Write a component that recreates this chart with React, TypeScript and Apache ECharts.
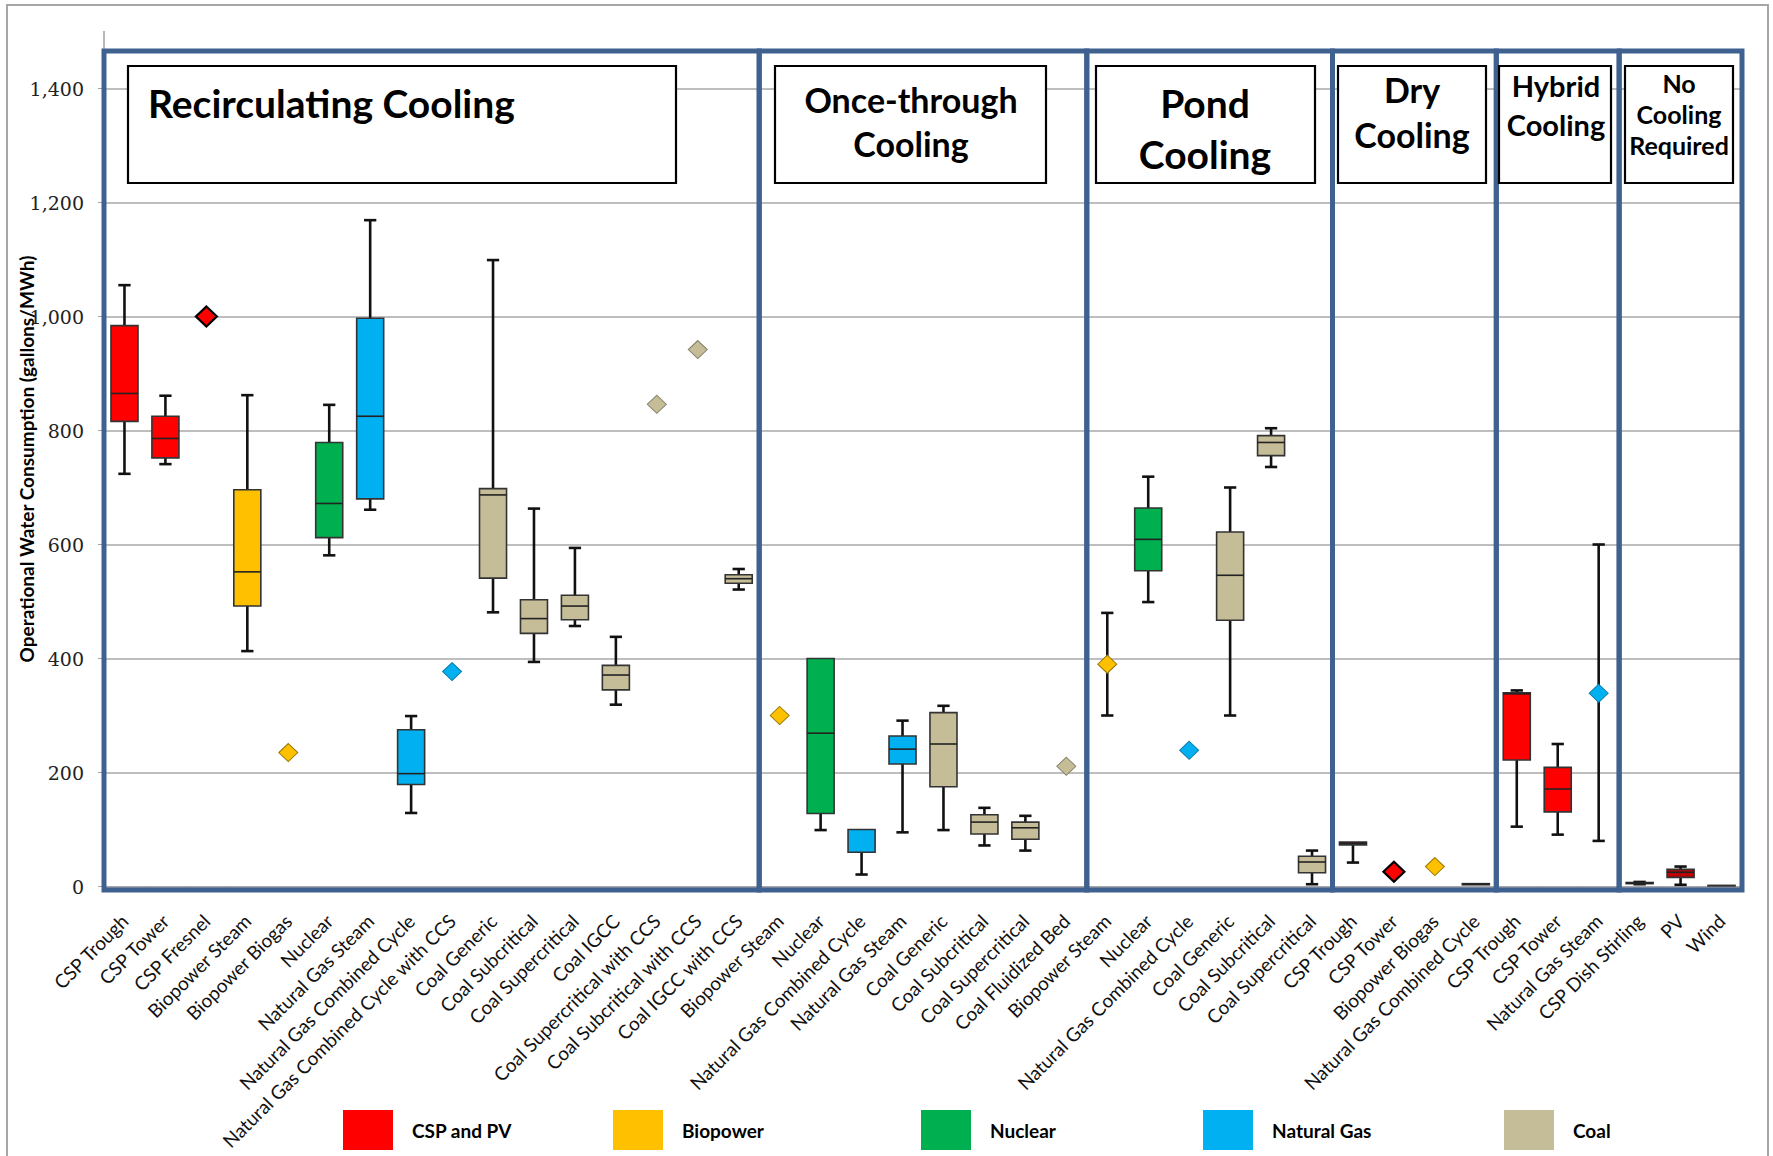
import React, { useEffect, useRef } from "react";
import * as echarts from "echarts";

// ---------- data ----------
const categories = [
  "CSP Trough", "CSP Tower", "CSP Fresnel", "Biopower Steam", "Biopower Biogas", "Nuclear",
  "Natural Gas Steam", "Natural Gas Combined Cycle", "Natural Gas Combined Cycle with CCS",
  "Coal Generic", "Coal Subcritical", "Coal Supercritical", "Coal IGCC",
  "Coal Supercritical with CCS", "Coal Subcritical with CCS", "Coal IGCC with CCS",
  "Biopower Steam", "Nuclear", "Natural Gas Combined Cycle", "Natural Gas Steam",
  "Coal Generic", "Coal Subcritical", "Coal Supercritical", "Coal Fluidized Bed",
  "Biopower Steam", "Nuclear", "Natural Gas Combined Cycle", "Coal Generic", "Coal Subcritical", "Coal Supercritical",
  "CSP Trough", "CSP Tower", "Biopower Biogas", "Natural Gas Combined Cycle",
  "CSP Trough", "CSP Tower", "Natural Gas Steam",
  "CSP Dish Stirling", "PV", "Wind",
];

const groupNames = ["Recirculating Cooling", "Once-through\nCooling", "Pond\nCooling", "Dry\nCooling", "Hybrid\nCooling", "No\nCooling\nRequired"];
const groupFirst = [0, 16, 24, 30, 34, 37];
const groupLast = [15, 23, 29, 33, 36, 39];

const fuelNames = ["CSP and PV", "Biopower", "Nuclear", "Natural Gas", "Coal"];
const fuelOf = [
  0, 0, 0, 1, 1, 2, 3, 3, 3, 4, 4, 4, 4, 4, 4, 4,
  1, 2, 3, 3, 4, 4, 4, 4,
  1, 2, 3, 4, 4, 4,
  0, 0, 1, 3,
  0, 0, 3,
  0, 0, 0,
];

const N = null;
const whiskerLow = [
  724, 741, N, 413, N, 581, 661, 129, N, 481, 394, 457, 319, N, N, 521,
  N, 99, 21, 95, 99, 72, 63, N,
  300, 499, N, 300, 736, 4,
  42, N, N, 3,
  105, 91, 80,
  4, 3, 1,
];
const boxQ1 = [
  816, 752, N, 492, N, 612, 680, 179, N, 541, 444, 468, 345, N, N, 532,
  N, 128, 60, 215, 175, 92, 83, N,
  N, 554, N, 467, 756, 24,
  73, N, N, 3,
  222, 131, N,
  5, 16, 1,
];
const boxMedian = [
  865, 786, N, 552, N, 672, 825, 198, N, 687, 470, 492, 371, N, N, 540,
  N, 269, N, 241, 250, 113, 103, N,
  N, 609, N, 546, 779, 43,
  76, N, N, 4,
  338, 171, N,
  6, 25, N,
];
const boxQ3 = [
  984, 825, N, 696, N, 779, 997, 275, N, 698, 503, 511, 388, N, N, 547,
  N, 400, 100, 264, 305, 126, 113, N,
  N, 664, N, 622, 791, 53,
  78, N, N, 5,
  340, 209, N,
  7, 30, 2,
];
const whiskerHigh = [
  1055, 861, N, 862, N, 845, 1169, 299, N, 1099, 663, 594, 438, N, N, 557,
  N, 400, 100, 291, 317, 138, 124, N,
  480, 719, N, 700, 804, 63,
  78, N, N, 5,
  344, 250, 600,
  8, 35, 2,
];
const meanPoint = [
  N, N, 1000, N, 235, N, N, N, 377, N, N, N, N, 846, 942, N,
  300, N, N, N, N, N, N, 211,
  390, N, 239, N, N, N,
  N, 26, 35, N,
  N, N, 339,
  N, N, N,
];
const yTicks = [0, 200, 400, 600, 800, 1000, 1200, 1400];

// ---------- styles ----------
const fuelColors = ["#FF0000", "#FFC000", "#00B050", "#00B0F0", "#C4BD97"];
const diamondBorders = ["#000000", "#9A7A00", "#00703A", "#0A7CA8", "#85806A"];
const darkRedIdx = [30, 38];
const FRAME = "#3F6190";
const LABEL_FONT = "Lato, 'Open Sans', sans-serif";

// annotation box layout (pixels)
const boxLayout = [
  { x: 128, y: 66, w: 548, h: 117, tx: 148, ty: 103, size: 39, lh: 44, align: "left" },
  { x: 775, y: 66, w: 271, h: 117, tx: 911, ty: 121, size: 34, lh: 44, align: "center" },
  { x: 1096, y: 66, w: 219, h: 117, tx: 1205, ty: 128, size: 39, lh: 51, align: "center" },
  { x: 1338, y: 66, w: 148, h: 117, tx: 1412, ty: 112, size: 34, lh: 45, align: "center" },
  { x: 1499, y: 66, w: 112, h: 117, tx: 1556, ty: 105, size: 29, lh: 39, align: "center" },
  { x: 1625, y: 66, w: 108, h: 117, tx: 1679, ty: 114, size: 25, lh: 31, align: "center" },
];
const legendLeft = [338, 608, 916, 1198, 1499];

function val(v: number | null) {
  return v === null ? "-" : v;
}

function renderBox(params: any, api: any) {
  const idx = api.value(0);
  const low = api.value(1);
  const q1 = api.value(2);
  const med = api.value(3);
  const q3 = api.value(4);
  const high = api.value(5);
  const band = api.size([1, 0])[0];
  const cx = api.coord([idx, 0])[0];
  const y = (v: number) => api.coord([idx, v])[1];
  const boxW = band * 0.66;
  const capW = band * 0.3;
  const fill = api.visual("color");
  const children: any[] = [];
  const hasBox = !isNaN(q1) && !isNaN(q3);
  if (!isNaN(low) && !isNaN(high)) {
    children.push({
      type: "line",
      shape: { x1: cx, y1: y(low), x2: cx, y2: y(high) },
      style: { stroke: "#111", lineWidth: 2.6 },
    });
    if (!hasBox || high > q3) {
      children.push({
        type: "line",
        shape: { x1: cx - capW / 2, y1: y(high), x2: cx + capW / 2, y2: y(high) },
        style: { stroke: "#111", lineWidth: 2.6 },
      });
    }
    if (!hasBox || low < q1) {
      children.push({
        type: "line",
        shape: { x1: cx - capW / 2, y1: y(low), x2: cx + capW / 2, y2: y(low) },
        style: { stroke: "#111", lineWidth: 2.6 },
      });
    }
  }
  if (hasBox) {
    children.push({
      type: "rect",
      shape: { x: cx - boxW / 2, y: y(q3), width: boxW, height: Math.max(y(q1) - y(q3), 0.5) },
      style: { fill, stroke: "#333", lineWidth: 1.6 },
    });
    if (!isNaN(med)) {
      children.push({
        type: "line",
        shape: { x1: cx - boxW / 2, y1: y(med), x2: cx + boxW / 2, y2: y(med) },
        style: { stroke: "#222", lineWidth: 1.6 },
      });
    }
  }
  return { type: "group", children };
}

function renderFrame(params: any, api: any) {
  const band = api.size([1, 0])[0];
  const x0 = api.coord([api.value(0), 0])[0] - band / 2;
  const x1 = api.coord([api.value(1), 0])[0] + band / 2;
  const cs = params.coordSys;
  const top = cs.y + 19.5;
  const bottom = cs.y + cs.height + 3.5;
  return {
    type: "rect",
    shape: { x: x0, y: top, width: x1 - x0, height: bottom - top },
    style: { fill: "none", stroke: FRAME, lineWidth: 5 },
  };
}

export default function App() {
  const ref = useRef<HTMLDivElement>(null);

  useEffect(() => {
    document.body.style.margin = "0";
    if (!ref.current) return;
    const chart = echarts.init(ref.current, undefined, { renderer: "svg" });

    const boxSeries = fuelNames.map((name, f) => ({
      name,
      type: "custom",
      renderItem: renderBox,
      z: 3,
      silent: true,
      itemStyle: { color: fuelColors[f] },
      encode: { x: 0, y: [1, 2, 3, 4, 5] },
      data: categories
        .map((_, i) => i)
        .filter((i) => fuelOf[i] === f && whiskerLow[i] !== null)
        .map((i) => {
          const value = [i, val(whiskerLow[i]), val(boxQ1[i]), val(boxMedian[i]), val(boxQ3[i]), val(whiskerHigh[i])];
          return darkRedIdx.includes(i) ? { value, itemStyle: { color: "#C00000" } } : { value };
        }),
    }));

    const pointSeries = fuelNames.map((name, f) => ({
      name,
      type: "scatter",
      symbol: "diamond",
      symbolSize: f === 0 ? [21, 20] : [19, 18],
      z: 4,
      silent: true,
      itemStyle: { color: fuelColors[f], borderColor: diamondBorders[f], borderWidth: f === 0 ? 2.2 : 1, opacity: 1 },
      data: categories
        .map((_, i) => i)
        .filter((i) => fuelOf[i] === f && meanPoint[i] !== null)
        .map((i) => [i, meanPoint[i]]),
    }));

    const frameSeries = {
      name: "frames",
      type: "custom",
      renderItem: renderFrame,
      z: 6,
      silent: true,
      encode: { x: [0, 1], y: 2 },
      data: groupFirst.map((g, k) => [g, groupLast[k], 0]),
    };

    const graphics: any[] = [
      {
        type: "rect",
        z: 0,
        silent: true,
        shape: { x: 7, y: 5, width: 1761, height: 1170 },
        style: { fill: "none", stroke: "#A6A6A6", lineWidth: 2 },
      },
    ];
    groupNames.forEach((label, k) => {
      const b = boxLayout[k];
      graphics.push({
        type: "rect",
        z: 100,
        silent: true,
        shape: { x: b.x, y: b.y, width: b.w, height: b.h },
        style: { fill: "#fff", stroke: "#000", lineWidth: 2.2 },
      });
      graphics.push({
        type: "text",
        z: 101,
        silent: true,
        x: b.tx,
        y: b.ty,
        style: {
          text: label,
          fill: "#000",
          fontFamily: LABEL_FONT,
          fontWeight: "bold",
          fontSize: b.size,
          lineHeight: b.lh,
          align: b.align,
          verticalAlign: "middle",
        },
      });
    });

    const option: any = {
      animation: false,
      backgroundColor: "#fff",
      grid: { left: 104, right: 31, top: 31.5, bottom: 269.5, containLabel: false, outerBoundsMode: "none" },
      xAxis: {
        type: "category",
        data: categories,
        axisLine: { show: true, lineStyle: { color: "#A0A0A0", width: 1.5 } },
        axisTick: { show: true, length: 5, lineStyle: { color: "#A0A0A0" } },
        axisLabel: {
          interval: 0,
          rotate: 45,
          margin: 31,
          fontFamily: LABEL_FONT,
          fontSize: 19,
          color: "#111",
        },
        splitLine: { show: false },
      },
      yAxis: {
        type: "value",
        min: 0,
        max: 1500,
        interval: 200,
        name: "Operational Water Consumption (gallons/MWh)",
        nameLocation: "middle",
        nameGap: 68,
        nameMoveOverlap: false,
        nameTextStyle: { fontFamily: LABEL_FONT, fontWeight: "bold", fontSize: 19, color: "#000" },
        axisLine: { show: true, lineStyle: { color: "#A0A0A0", width: 1.5 } },
        axisTick: { show: true, length: 6, lineStyle: { color: "#A0A0A0" } },
        splitLine: { show: true, showMaxLine: false, lineStyle: { color: "#A8A8A8", width: 1.5 } },
        axisLabel: {
          margin: 20,
          showMaxLabel: false,
          fontFamily: "'DejaVu Serif', serif",
          fontSize: 19,
          color: "#222",
          formatter: (v: number) => (yTicks.includes(v) ? v.toLocaleString("en-US") : ""),
        },
      },
      legend: fuelNames.map((name, f) => ({
        data: [name],
        left: legendLeft[f],
        top: 1105,
        icon: "rect",
        itemWidth: 50,
        itemHeight: 40,
        selectedMode: false,
        itemStyle: { borderWidth: 0 },
        textStyle: {
          fontFamily: LABEL_FONT,
          fontWeight: "bold",
          fontSize: 19,
          color: "#000",
          padding: [0, 0, 0, 14],
        },
      })),
      graphic: graphics,
      series: [...boxSeries, ...pointSeries, frameSeries],
    };

    chart.setOption(option);
    return () => chart.dispose();
  }, []);

  return <div ref={ref} style={{ width: 1773, height: 1156 }} />;
}
